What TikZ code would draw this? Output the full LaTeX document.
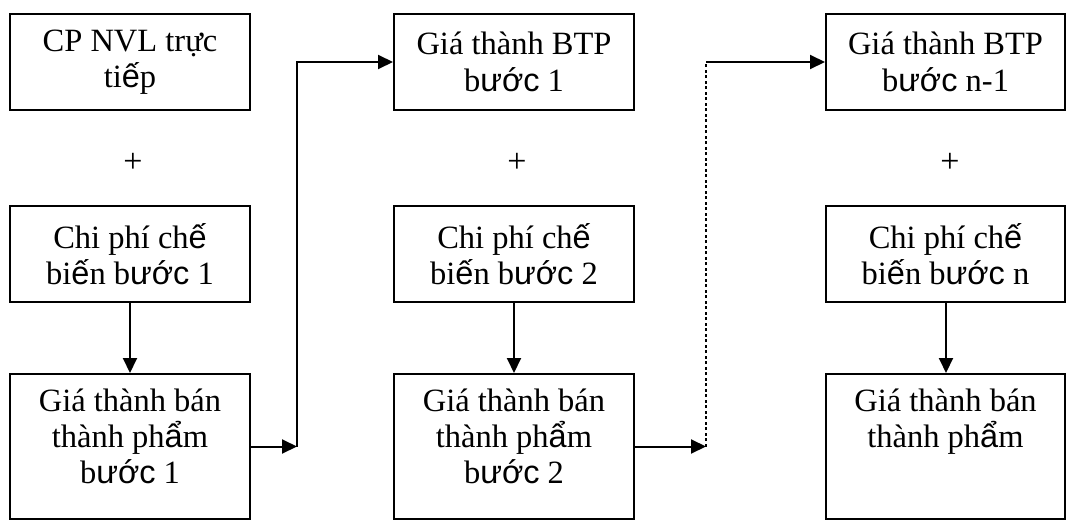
\documentclass[tikz,border=0pt]{standalone}
\usepackage{fontspec}
\setmainfont{Liberation Serif}
\newfontfamily\vsansfont{Liberation Sans}
\newcommand{\vsn}[1]{{\vsansfont #1}}
\usetikzlibrary{arrows.meta}
\begin{document}
\begin{tikzpicture}[x=1pt,y=-1pt,
  box/.style={draw, line width=2pt, minimum width=240pt, inner sep=0pt, align=center,
    font=\fontsize{32.5}{36.5}\selectfont},
  shortbox/.style={box, minimum height=96pt},
  tallbox/.style={box, minimum height=145pt},
  boxtext/.style={inner sep=0pt, align=center, font=\fontsize{32.5}{36}\selectfont},
  plussign/.style={font=\fontsize{34}{36}\selectfont, inner sep=0pt},
  conn/.style={line width=2pt, -{Triangle[length=15pt,width=14pt]}},
  dotline/.style={line width=2pt, dash pattern=on 3pt off 2.5pt}]
\useasboundingbox (0,0) rectangle (1066,522);
% column 1
\node[shortbox] (t1) at (130,62) {CP NVL trực\\ti\vsn{ế}p};
\node[plussign] (p1) at (133,163) {+};
\node[shortbox] (m1) at (130,254) {Chi phí ch\vsn{ế}\\bi\vsn{ế}n b\vsn{ước} 1};
\node[tallbox] (b1) at (130,446.5) {};
\node[boxtext] (b1t) at ([yshift=10pt]b1.center) {Giá thành bán\\thành ph\vsn{ẩ}m\\b\vsn{ước} 1};
% column 2
\node[shortbox] (t2) at (514,62) {Giá thành BTP\\b\vsn{ước} 1};
\node[plussign] (p2) at (517,163) {+};
\node[shortbox] (m2) at (514,254) {Chi phí ch\vsn{ế}\\bi\vsn{ế}n b\vsn{ước} 2};
\node[tallbox] (b2) at (514,446.5) {};
\node[boxtext] (b2t) at ([yshift=10pt]b2.center) {Giá thành bán\\thành ph\vsn{ẩ}m\\b\vsn{ước} 2};
% column 3
\node[shortbox, minimum width=239pt] (t3) at (945.5,62) {Giá thành BTP\\b\vsn{ước} n-1};
\node[plussign] (p3) at (950,163) {+};
\node[shortbox, minimum width=239pt] (m3) at (945.5,254) {Chi phí ch\vsn{ế}\\bi\vsn{ế}n b\vsn{ước} n};
\node[tallbox, minimum width=239pt] (b3) at (945.5,446.5) {};
\node[boxtext, anchor=north] (b3t) at (b1t.north -| b3.center) {Giá thành bán\\thành ph\vsn{ẩ}m};
% connectors
\coordinate (c1) at (297,446.5);
\coordinate (c2) at (706,446.5);
\coordinate (d2) at (706,62);
\draw[conn] (m1) -- (b1);
\draw[conn] (m2) -- (b2);
\draw[conn] ([xshift=0.5pt]m3.south) -- ([xshift=0.5pt]b3.north);
\draw[conn] (b1.east) -- (c1);
\draw[conn] (c1) |- (t2.west);
\draw[conn] (b2.east) -- (c2);
\draw[dotline] (c2) -- (d2);
\draw[conn] (d2) -- (t3.west);
\end{tikzpicture}
\end{document}
